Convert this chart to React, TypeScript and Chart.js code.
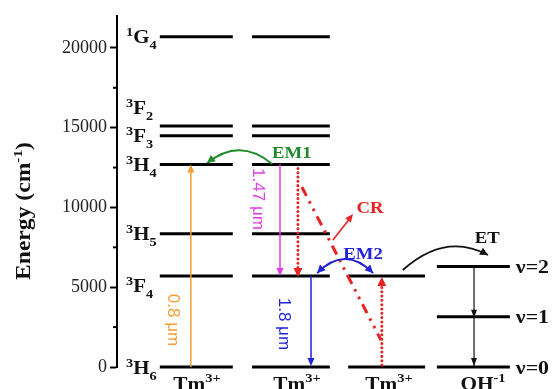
import React, { useEffect, useRef } from 'react';
import { Chart, registerables } from 'chart.js';

Chart.register(...registerables);

const FONT = '"Liberation Serif", "Times New Roman", serif';
const SANS = '"Liberation Sans", Arial, sans-serif';

// ---- data (energies in cm^-1) ----
const tmLevelEnergies = [0, 5700, 8350, 12700, 14500, 15100, 20700];
const tmLevelSpin = ['3', '3', '3', '3', '3', '3', '1'];
const tmLevelTerm = ['H', 'F', 'H', 'H', 'F', 'F', 'G'];
const tmLevelJ = ['6', '4', '5', '4', '3', '2', '4'];
const acceptorLevelEnergies = [0, 5700];
const ohLevelEnergies = [0, 3150, 6300];
const ohLevelNames = ['ν=0', 'ν=1', 'ν=2'];
const columnSpecies = ['Tm', 'Tm', 'Tm', 'OH'];
const columnCharge = ['3+', '3+', '3+', '-1'];
const yTickValues = [0, 5000, 10000, 15000, 20000];
const yMinorTickValues = [2500, 7500, 12500, 17500];
const wavelengthLabels = ['0.8 μm', '1.47 μm', '1.8 μm'];
const processLabels = ['EM1', 'EM2', 'CR', 'ET'];

// ---- layout (x axis units 0..100) ----
const COLS: [number, number][] = [
  [9.8, 26.5],
  [30.9, 48.7],
  [52.9, 70.5],
  [73.2, 89.9],
];
const C = {
  orange: '#F0A030',
  magenta: '#E23CE2',
  blue: '#2222D8',
  red: '#E82222',
  green: '#1F8A2A',
  black: '#111111',
};

type Part = { t: string; size: number; dy?: number; bold?: boolean };

function drawRich(ctx: CanvasRenderingContext2D, parts: Part[], x: number, y: number, align: 'left' | 'center' | 'right', color: string, sx = 1.1) {
  const widths = parts.map((p) => {
    ctx.font = `${p.bold === false ? '' : 'bold '}${p.size}px ${FONT}`;
    return ctx.measureText(p.t).width * sx;
  });
  const total = widths.reduce((a, b) => a + b, 0);
  let cx = align === 'center' ? x - total / 2 : align === 'right' ? x - total : x;
  ctx.textAlign = 'left';
  ctx.textBaseline = 'alphabetic';
  parts.forEach((p, i) => {
    ctx.save();
    ctx.translate(cx, y + (p.dy || 0));
    ctx.scale(sx, 1);
    ctx.fillStyle = color;
    ctx.font = `${p.bold === false ? '' : 'bold '}${p.size}px ${FONT}`;
    ctx.fillText(p.t, 0, 0);
    ctx.restore();
    cx += widths[i];
  });
}

function head(ctx: CanvasRenderingContext2D, tx: number, ty: number, fx: number, fy: number, len: number, half: number, color: string) {
  const a = Math.atan2(ty - fy, tx - fx);
  ctx.save();
  ctx.fillStyle = color;
  ctx.beginPath();
  ctx.moveTo(tx, ty);
  ctx.lineTo(tx - len * Math.cos(a) + half * Math.sin(a), ty - len * Math.sin(a) - half * Math.cos(a));
  ctx.lineTo(tx - len * Math.cos(a) - half * Math.sin(a), ty - len * Math.sin(a) + half * Math.cos(a));
  ctx.closePath();
  ctx.fill();
  ctx.restore();
}

function seg(ctx: CanvasRenderingContext2D, x0: number, y0: number, x1: number, y1: number, color: string, w: number, dash: number[] = [], cap: CanvasLineCap = 'butt') {
  ctx.save();
  ctx.strokeStyle = color;
  ctx.lineWidth = w;
  ctx.lineCap = cap;
  ctx.setLineDash(dash);
  ctx.beginPath();
  ctx.moveTo(x0, y0);
  ctx.lineTo(x1, y1);
  ctx.stroke();
  ctx.restore();
}

function arc(ctx: CanvasRenderingContext2D, p0: number[], c: number[], p1: number[], color: string, headStart: boolean, headEnd: boolean) {
  ctx.save();
  ctx.strokeStyle = color;
  ctx.lineWidth = 1.8;
  ctx.beginPath();
  ctx.moveTo(p0[0], p0[1]);
  ctx.quadraticCurveTo(c[0], c[1], p1[0], p1[1]);
  ctx.stroke();
  ctx.restore();
  if (headEnd) head(ctx, p1[0], p1[1], c[0], c[1], 8, 4, color);
  if (headStart) head(ctx, p0[0], p0[1], c[0], c[1], 8, 4, color);
}

function rotText(ctx: CanvasRenderingContext2D, text: string, cx: number, cy: number, angle: number, font: string, color: string) {
  ctx.save();
  ctx.translate(cx, cy);
  ctx.rotate(angle);
  ctx.font = font;
  ctx.fillStyle = color;
  ctx.textAlign = 'center';
  ctx.textBaseline = 'middle';
  ctx.fillText(text, 0, 0);
  ctx.restore();
}

const diagramPlugin = {
  id: 'diagram',
  afterDatasetsDraw(chart: any) {
    const ctx: CanvasRenderingContext2D = chart.ctx;
    const xs = chart.scales.x;
    const ys = chart.scales.y;
    const X = (v: number) => xs.getPixelForValue(v);
    const Y = (e: number) => ys.getPixelForValue(e);
    const area = chart.chartArea;

    // minor ticks
    yMinorTickValues.forEach((v) => seg(ctx, area.left - 4, Y(v), area.left, Y(v), '#000', 2));

    // Y axis title
    ctx.save();
    ctx.translate(23, 211);
    ctx.rotate(-Math.PI / 2);
    drawRich(ctx, [
      { t: 'Energy (cm', size: 20 },
      { t: '-1', size: 13, dy: -8 },
      { t: ')', size: 20 },
    ], 0, 7, 'center', '#111', 1.18);
    ctx.restore();

    // level labels
    const offs = [0, 9, 0, 0, 0, -19, 0];
    tmLevelEnergies.forEach((e, i) => {
      const base = Y(e) + offs[i] + 6.5;
      drawRich(ctx, [
        { t: tmLevelSpin[i], size: 13, dy: -7 },
        { t: tmLevelTerm[i], size: 19 },
        { t: tmLevelJ[i], size: 13, dy: 6 },
      ], 126, base, 'left', '#111', 1.1);
    });

    // OH labels
    ohLevelEnergies.forEach((e, i) => {
      drawRich(ctx, [{ t: ohLevelNames[i], size: 19 }], X(COLS[3][1]) + 6, Y(e) + 6.5, 'left', '#111', 1.15);
    });

    // column labels
    const colCenters = [197, 297, 389, 483];
    columnSpecies.forEach((s, i) => {
      drawRich(ctx, [
        { t: s, size: 19 },
        { t: columnCharge[i], size: 13, dy: -8 },
      ], colCenters[i], 390, 'center', '#111', 1.12);
    });

    // orange 0.8 um excitation
    const xo = X(16.9);
    seg(ctx, xo, Y(0), xo, Y(tmLevelEnergies[3]) + 6, C.orange, 1.5);
    head(ctx, xo, Y(tmLevelEnergies[3]), xo, Y(0), 8, 3.5, C.orange);
    rotText(ctx, wavelengthLabels[0], X(12.8), Y(2950), Math.PI / 2, `17px ${SANS}`, C.orange);

    // magenta 1.47 um
    const xm = X(37.3);
    seg(ctx, xm, Y(tmLevelEnergies[3]), xm, Y(tmLevelEnergies[1]) - 6, C.magenta, 1.5);
    head(ctx, xm, Y(tmLevelEnergies[1]), xm, Y(tmLevelEnergies[3]), 8, 3.5, C.magenta);
    rotText(ctx, wavelengthLabels[1], X(32.3), Y(10530), Math.PI / 2, `17px ${SANS}`, C.magenta);

    // blue 1.8 um
    const xb = X(44.4);
    seg(ctx, xb, Y(tmLevelEnergies[1]), xb, Y(0) - 6, C.blue, 1.5);
    head(ctx, xb, Y(0) - 1, xb, Y(tmLevelEnergies[1]), 8, 3.5, C.blue);
    rotText(ctx, wavelengthLabels[2], X(38.2), Y(2700), Math.PI / 2, `17px ${SANS}`, C.blue);

    // red dotted (cross relaxation)
    const xr1 = X(41.4);
    seg(ctx, xr1, Y(tmLevelEnergies[3]) + 4, xr1, Y(tmLevelEnergies[1]) - 8, C.red, 3, [0.01, 4.3], 'round');
    head(ctx, xr1, Y(tmLevelEnergies[1]) + 1, xr1, Y(tmLevelEnergies[3]), 9, 4.5, C.red);
    const xr2 = X(60.6);
    seg(ctx, xr2, Y(0) - 2, xr2, Y(acceptorLevelEnergies[1]) + 8, C.red, 3, [0.01, 4.3], 'round');
    head(ctx, xr2, Y(acceptorLevelEnergies[1]) + 1, xr2, Y(0), 9, 4.5, C.red);
    seg(ctx, X(42.3), Y(11280), X(60.4), Y(1690), C.red, 3, [10, 6, 2.5, 6, 2.5, 6]);

    // CR arrow
    seg(ctx, X(49.4), Y(7960), X(53.6), Y(9420), C.red, 1.6);
    head(ctx, X(54.0), Y(9590), X(49.4), Y(7960), 8, 3.5, C.red);

    // green EM1 arc
    arc(ctx, [X(35.5), Y(12720)], [X(28.1), Y(14420)], [X(20.6), Y(12780)], C.green, false, true);
    // blue EM2 arc
    arc(ctx, [X(45.8), Y(5890)], [X(52.2), Y(7650)], [X(58.6), Y(5890)], C.blue, true, true);
    // black ET arc
    arc(ctx, [X(65.4), Y(6080)], [X(75.1), Y(8460)], [X(84.9), Y(7020)], C.black, false, true);

    // OH relaxation
    const xh = X(81.7);
    seg(ctx, xh, Y(ohLevelEnergies[2]), xh, Y(0), C.black, 1.2);
    head(ctx, xh, Y(ohLevelEnergies[1]) + 1, xh, Y(ohLevelEnergies[2]), 8, 3, C.black);
    head(ctx, xh, Y(0) - 1, xh, Y(ohLevelEnergies[2]), 8, 3, C.black);

    // process labels
    const pl: [string, number, number, string][] = [
      [processLabels[0], 40.0, 13480, C.green],
      [processLabels[1], 56.3, 7150, C.blue],
      [processLabels[2], 57.9, 10030, C.red],
      [processLabels[3], 84.7, 8150, C.black],
    ];
    pl.forEach(([t, x, e, col]) => {
      drawRich(ctx, [{ t, size: 17 }], X(x), Y(e) + 6, 'center', col, 1.1);
    });
  },
};

export default function App() {
  const ref = useRef<HTMLCanvasElement | null>(null);
  useEffect(() => {
    if (!ref.current) return;
    const datasets: any[] = [];
    const addLevels = (energies: number[], col: [number, number]) => {
      energies.forEach((e) => {
        datasets.push({
          data: [{ x: col[0], y: e }, { x: col[1], y: e }],
          borderColor: '#000',
          borderWidth: 3,
          pointRadius: 0,
          clip: false,
          borderCapStyle: 'butt',
        });
      });
    };
    addLevels(tmLevelEnergies, COLS[0]);
    addLevels(tmLevelEnergies, COLS[1]);
    addLevels(acceptorLevelEnergies, COLS[2]);
    addLevels(ohLevelEnergies, COLS[3]);

    const chart = new Chart(ref.current, {
      type: 'line',
      data: { datasets },
      options: {
        animation: false,
        responsive: true,
        maintainAspectRatio: false,
        layout: { padding: { top: 16, bottom: 22, left: 0, right: 0 } },
        plugins: { legend: { display: false }, tooltip: { enabled: false } },
        scales: {
          x: { type: 'linear', display: false, min: 0, max: 100 },
          y: {
            type: 'linear',
            min: 0,
            max: 22000,
            afterBuildTicks: (s: any) => {
              s.ticks = yTickValues.map((v) => ({ value: v }));
            },
            afterFit: (s: any) => {
              s.width = 117;
            },
            border: { display: true, color: '#000', width: 2 },
            grid: {
              drawOnChartArea: false,
              drawTicks: true,
              tickLength: 7,
              tickWidth: 2,
              tickColor: '#000',
            },
            ticks: {
              autoSkip: false,
              padding: 3,
              color: '#222',
              font: { family: FONT, size: 18 },
              callback: (v: any) => String(v),
            },
          },
        },
      } as any,
      plugins: [diagramPlugin],
    });
    return () => chart.destroy();
  }, []);
  return (
    <div style={{ position: 'fixed', left: 0, top: 0, width: 554, height: 389, background: '#fff' }}>
      <canvas ref={ref} />
    </div>
  );
}
